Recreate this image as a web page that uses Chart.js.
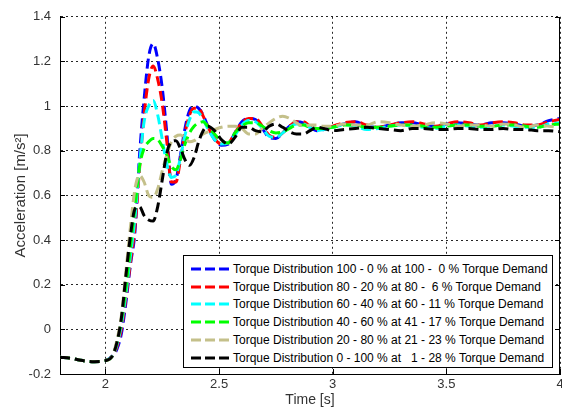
<!DOCTYPE html>
<html>
<head>
<meta charset="utf-8">
<script src="https://cdn.jsdelivr.net/npm/chart.js@4.4.1/dist/chart.umd.min.js"></script>
<style>
  html, body { margin: 0; padding: 0; background: #fff; overflow: hidden; }
  #wrap { position: relative; width: 562px; height: 412px; }
  #legend {
    position: absolute; left: 183px; top: 255px; width: 368px; height: 111px;
    background: #fff; border: 1px solid #000; box-sizing: content-box;
    font-family: "Liberation Sans", Arial, sans-serif; font-size: 12px; color: #000;
  }
  .row { position: absolute; left: 0; height: 16px; display: flex; align-items: center; white-space: pre; }
  .row svg { margin-left: 7px; margin-right: 4px; }
</style>
</head>
<body>
<div id="wrap">
  <canvas id="c" width="562" height="412"></canvas>
  <div id="legend"></div>
</div>
<script>
const TIME = [1.80,1.85,1.90,1.95,2.00,2.03,2.05,2.07,2.09,2.11,2.13,2.15,2.17,2.19,2.21,2.23,2.25,2.27,2.29,2.31,
  2.33,2.35,2.37,2.39,2.41,2.43,2.45,2.48,2.51,2.54,2.57,2.60,2.63,2.66,2.69,2.72,2.75,2.78,2.81,2.84,
  2.87,2.90,2.93,2.96,3.00,3.05,3.10,3.15,3.20,3.25,3.30,3.35,3.40,3.45,3.50,3.55,3.60,3.65,3.70,3.75,
  3.80,3.85,3.90,3.95,4.00];

const TD_100_0 = [-0.125,-0.13,-0.14,-0.145,-0.14,-0.12,
  -0.09,-0.02,0.12,0.29,0.44,0.78,1.03,1.22,1.28,1.21,1.08,0.88,0.65,0.67,
  0.78,0.90,0.98,1.00,0.99,0.96,0.91,0.85,0.825,0.83,
  0.88,0.93,0.945,0.94,0.90,0.86,0.855,0.88,0.91,0.93,
  0.925,0.905,0.89,0.895,0.91,0.92,0.93,0.91,0.905,0.915,
  0.925,0.925,0.915,0.91,0.92,0.925,0.92,0.915,0.925,0.925,
  0.92,0.91,0.915,0.935,0.945];

const TD_80_20 = [-0.125,-0.13,-0.14,-0.145,-0.14,-0.12,
  -0.08,0.0,0.14,0.30,0.46,0.72,0.96,1.12,1.18,1.12,1.01,0.84,0.66,0.66,
  0.76,0.88,0.96,0.99,0.99,0.955,0.91,0.855,0.83,0.835,
  0.88,0.925,0.945,0.945,0.91,0.87,0.86,0.88,0.91,0.93,
  0.93,0.91,0.895,0.90,0.91,0.925,0.93,0.915,0.905,0.915,
  0.925,0.93,0.92,0.91,0.92,0.93,0.925,0.915,0.925,0.93,
  0.925,0.915,0.915,0.93,0.94];

const TD_60_40 = [-0.125,-0.13,-0.14,-0.145,-0.14,-0.12,
  -0.07,0.02,0.16,0.33,0.50,0.74,0.93,1.00,1.025,0.96,0.85,0.74,0.68,0.69,
  0.77,0.87,0.94,0.975,0.97,0.94,0.90,0.85,0.83,0.835,
  0.87,0.915,0.935,0.93,0.90,0.865,0.86,0.88,0.905,0.92,
  0.92,0.905,0.89,0.895,0.905,0.915,0.91,0.895,0.90,0.91,
  0.915,0.91,0.905,0.90,0.91,0.915,0.91,0.905,0.91,0.915,
  0.91,0.905,0.905,0.92,0.925];

const TD_40_60 = [-0.125,-0.13,-0.14,-0.145,-0.14,-0.12,
  -0.06,0.04,0.19,0.37,0.55,0.73,0.81,0.84,0.855,0.85,0.82,0.78,0.73,0.715,
  0.76,0.83,0.88,0.91,0.925,0.93,0.91,0.875,0.845,0.835,
  0.88,0.91,0.925,0.925,0.91,0.89,0.88,0.885,0.90,0.915,
  0.915,0.905,0.90,0.90,0.905,0.915,0.915,0.905,0.905,0.91,
  0.915,0.915,0.91,0.905,0.91,0.915,0.915,0.91,0.91,0.915,
  0.915,0.91,0.905,0.915,0.92];

const TD_20_80 = [-0.125,-0.13,-0.14,-0.145,-0.14,-0.12,
  -0.05,0.06,0.26,0.46,0.63,0.69,0.66,0.60,0.59,0.63,0.71,0.78,0.84,0.865,
  0.87,0.855,0.84,0.845,0.86,0.875,0.885,0.895,0.905,0.91,
  0.91,0.90,0.875,0.875,0.90,0.925,0.945,0.955,0.945,0.925,
  0.91,0.915,0.915,0.91,0.91,0.92,0.915,0.915,0.93,0.925,
  0.915,0.91,0.915,0.925,0.92,0.91,0.915,0.915,0.91,0.92,
  0.915,0.905,0.915,0.91,0.905];

const TD_0_100 = [-0.125,-0.13,-0.14,-0.145,-0.14,-0.12,
  -0.06,0.05,0.24,0.42,0.54,0.55,0.51,0.49,0.485,0.55,0.67,0.79,0.84,0.845,
  0.81,0.76,0.735,0.77,0.84,0.89,0.91,0.89,0.85,0.83,
  0.86,0.905,0.905,0.89,0.885,0.91,0.92,0.905,0.885,0.875,
  0.875,0.89,0.905,0.90,0.89,0.895,0.90,0.905,0.90,0.895,
  0.89,0.90,0.90,0.895,0.895,0.90,0.90,0.895,0.895,0.90,
  0.895,0.895,0.89,0.89,0.885];

const LABELS = [
  "Torque Distribution 100 - 0 % at 100 -  0 % Torque Demand",
  "Torque Distribution 80 - 20 % at 80 -  6 % Torque Demand",
  "Torque Distribution 60 - 40 % at 60 - 11 % Torque Demand",
  "Torque Distribution 40 - 60 % at 41 - 17 % Torque Demand",
  "Torque Distribution 20 - 80 % at 21 - 23 % Torque Demand",
  "Torque Distribution 0 - 100 % at   1 - 28 % Torque Demand"
];
const COLORS = ["#0000ff", "#ff0000", "#00ffff", "#00ff00", "#c4c08a", "#000000"];
const SERIES = [TD_100_0, TD_80_20, TD_60_40, TD_40_60, TD_20_80, TD_0_100];

const XTICKS = [2, 2.5, 3, 3.5, 4];
const YTICKS = [-0.2, 0, 0.2, 0.4, 0.6, 0.8, 1, 1.2, 1.4];
const X_TITLE = "Time [s]";
const Y_TITLE = "Acceleration [m/s\u00B2]";

const FONT = "'Liberation Sans', Arial, Helvetica, sans-serif";

const datasets = SERIES.map((s, i) => ({
  label: LABELS[i],
  data: TIME.map((t, k) => ({ x: t, y: s[k] })),
  borderColor: COLORS[i],
  borderWidth: 3,
  borderDash: [10, 5],
  pointRadius: 0,
  fill: false,
  cubicInterpolationMode: 'monotone',
  order: SERIES.length - i
}));

const frame = {
  id: 'frame',
  afterDraw(chart) {
    const { ctx, chartArea: a, scales: { x, y } } = chart;
    ctx.save();
    ctx.strokeStyle = '#000';
    ctx.lineWidth = 1;
    ctx.setLineDash([]);
    ctx.beginPath();
    const r = Math.round(a.right) - 0.5;
    ctx.moveTo(r, Math.round(a.top));
    ctx.lineTo(r, Math.round(a.bottom) + 0.5);
    XTICKS.forEach(v => {
      const px = Math.round(x.getPixelForValue(v)) + 0.5;
      ctx.moveTo(px, a.bottom);
      ctx.lineTo(px, a.bottom - 5);
    });
    YTICKS.forEach(v => {
      const py = Math.round(y.getPixelForValue(v)) + 0.5;
      ctx.moveTo(a.left, py);
      ctx.lineTo(a.left + 5, py);
      ctx.moveTo(a.right, py);
      ctx.lineTo(a.right - 5, py);
    });
    ctx.stroke();
    ctx.restore();
  }
};

function fmt(v) { return String(Math.round(v * 100) / 100); }

new Chart(document.getElementById('c'), {
  type: 'line',
  data: { datasets },
  options: {
    responsive: false,
    animation: false,
    devicePixelRatio: 1,
    layout: { padding: { left: 0, right: 2, top: 15, bottom: 0 } },
    plugins: { legend: { display: false }, tooltip: { enabled: false } },
    scales: {
      x: {
        type: 'linear', min: 1.8, max: 4,
        afterBuildTicks: s => { s.ticks = XTICKS.map(v => ({ value: v })); },
        afterFit: s => { s.height = 38; s.paddingLeft = 0; s.paddingRight = 0; },
        ticks: { callback: v => fmt(v), font: { family: FONT, size: 13 }, color: '#333', padding: 3, maxRotation: 0, autoSkip: false },
        grid: { color: 'rgba(0,0,0,0.85)', lineWidth: 1, drawTicks: false },
        border: { display: true, color: '#000', width: 1, dash: [2, 3] },
        title: { display: true, text: X_TITLE, font: { family: FONT, size: 14 }, color: '#333', padding: { top: 0, bottom: 3 } }
      },
      y: {
        type: 'linear', min: -0.2, max: 1.4,
        afterBuildTicks: s => { s.ticks = YTICKS.map(v => ({ value: v })); },
        afterFit: s => { s.width = 60; },
        ticks: { callback: v => fmt(v), font: { family: FONT, size: 13 }, color: '#333', padding: 9, autoSkip: false },
        grid: { color: 'rgba(0,0,0,0.85)', lineWidth: 1, drawTicks: false },
        border: { display: true, color: '#000', width: 1, dash: [2, 3] },
        title: { display: true, text: Y_TITLE, font: { family: FONT, size: 15 }, color: '#333', padding: { top: 12, bottom: 0 } }
      }
    }
  },
  plugins: [frame]
});

// Legend (HTML, real text)
const leg = document.getElementById('legend');
LABELS.forEach((lab, i) => {
  const row = document.createElement('div');
  row.className = 'row';
  row.style.top = (5 + i * 17.7) + 'px';
  row.innerHTML = '<svg width="38" height="6"><line x1="0" y1="3" x2="38" y2="3" stroke="' + COLORS[i] +
    '" stroke-width="3" stroke-dasharray="10 4"/></svg>';
  const span = document.createElement('span');
  span.textContent = lab;
  row.appendChild(span);
  leg.appendChild(row);
});
</script>
</body>
</html>
